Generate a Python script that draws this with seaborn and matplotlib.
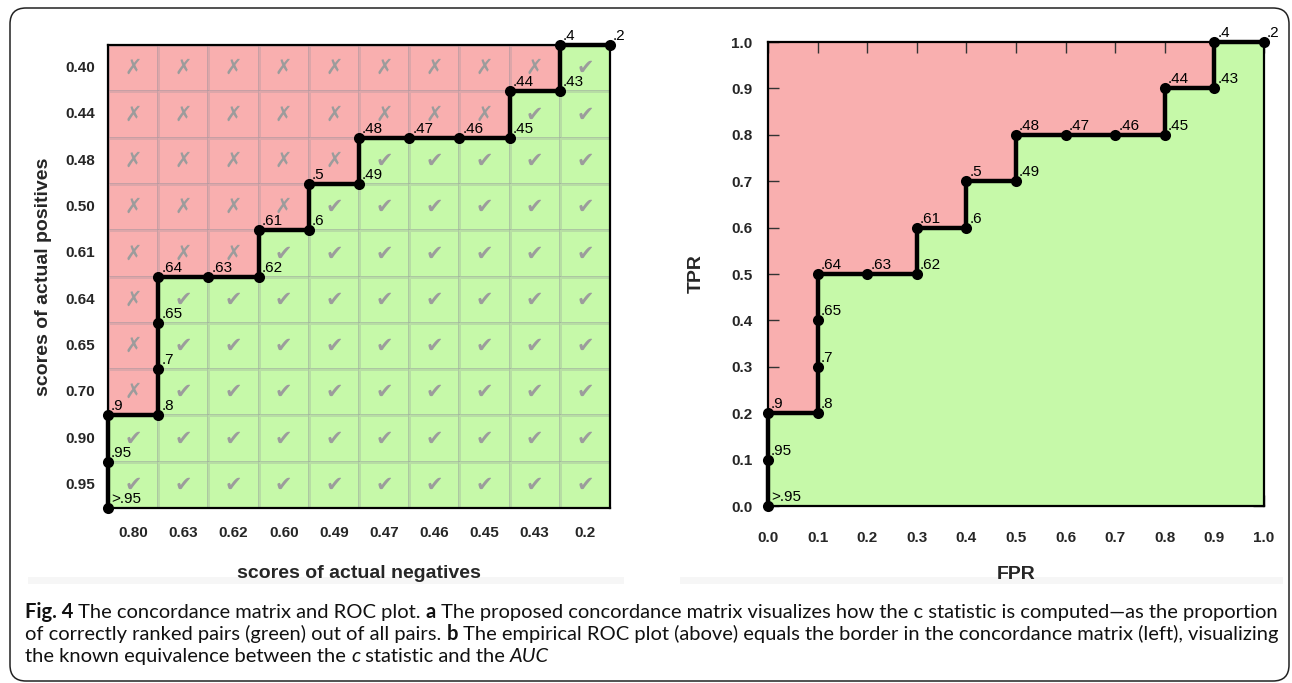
import numpy as np
import pandas as pd
import matplotlib
matplotlib.use("Agg")
import matplotlib.pyplot as plt
from matplotlib import font_manager
from matplotlib.colors import ListedColormap
from matplotlib.patches import FancyBboxPatch, Rectangle
import seaborn as sns

# ---------------- data ----------------
pos_labels = ["0.40", "0.44", "0.48", "0.50", "0.61", "0.64", "0.65", "0.70", "0.90", "0.95"]
pos_scores = [0.40, 0.44, 0.48, 0.50, 0.61, 0.64, 0.65, 0.70, 0.90, 0.95]
neg_labels = ["0.80", "0.63", "0.62", "0.60", "0.49", "0.47", "0.46", "0.45", "0.43", "0.2"]
neg_scores = [0.80, 0.63, 0.62, 0.60, 0.49, 0.47, 0.46, 0.45, 0.43, 0.20]

thresholds = [">.95", ".95", ".9", ".8", ".7", ".65", ".64", ".63", ".62", ".61", ".6",
              ".5", ".49", ".48", ".47", ".46", ".45", ".44", ".43", ".4", ".2"]
fpr = [0.0, 0.0, 0.0, 0.1, 0.1, 0.1, 0.1, 0.2, 0.3, 0.3, 0.4,
       0.4, 0.5, 0.5, 0.6, 0.7, 0.8, 0.8, 0.9, 0.9, 1.0]
tpr = [0.0, 0.1, 0.2, 0.2, 0.3, 0.4, 0.5, 0.5, 0.5, 0.6, 0.6,
       0.7, 0.7, 0.8, 0.8, 0.8, 0.8, 0.9, 0.9, 1.0, 1.0]

tick_vals = [0.0, 0.1, 0.2, 0.3, 0.4, 0.5, 0.6, 0.7, 0.8, 0.9, 1.0]

caption_lines = [
    [("Fig. 4", "bold", "normal"), (" The concordance matrix and ROC plot. ", "normal", "normal"),
     ("a", "bold", "normal"),
     (" The proposed concordance matrix visualizes how the c statistic is computed\u2014as the proportion", "normal", "normal")],
    [("of correctly ranked pairs (green) out of all pairs. ", "normal", "normal"), ("b", "bold", "normal"),
     (" The empirical ROC plot (above) equals the border in the concordance matrix (left), visualizing", "normal", "normal")],
    [("the known equivalence between the ", "normal", "normal"), ("c", "normal", "italic"),
     (" statistic and the ", "normal", "normal"), ("AUC", "normal", "italic")],
]

# ---------------- style ----------------
sns.set_theme(style="white")
plt.rcParams["font.family"] = ["Liberation Sans", "DejaVu Sans"]
installed = {f.name for f in font_manager.fontManager.ttflist}
narrow = "Liberation Sans Narrow" if "Liberation Sans Narrow" in installed else "Liberation Sans"
cap_font = "Lato" if "Lato" in installed else "Liberation Sans"

RED = "#F9AFAF"
GREEN = "#C6F9A9"
SYM = "#9c9c9c"
GRID = (0.55, 0.55, 0.6, 0.25)

W, H = 1292, 683
fig = plt.figure(figsize=(W / 100, H / 100), dpi=100)
fig.patch.set_facecolor("white")


def ax_rect(x0, y0, x1, y1):
    return [x0 / W, 1 - y1 / H, (x1 - x0) / W, (y1 - y0) / H]


# faint bands under panels (behind everything)
for x0, x1 in [(28, 624), (680, 1283)]:
    fig.patches.append(Rectangle((x0 / W, 1 - 584 / H), (x1 - x0) / W, 7 / H,
                                 transform=fig.transFigure, facecolor="#f6f6f6",
                                 edgecolor="none", zorder=-5))

# ---------------- left: concordance matrix ----------------
axL = fig.add_axes(ax_rect(108, 45, 610, 508))
conc = np.array([[1 if p > n else 0 for n in neg_scores] for p in pos_scores])
symbols = np.where(conc == 1, "\u2714", "\u2717")
df = pd.DataFrame(conc, index=pos_labels, columns=neg_labels)
sns.heatmap(df, ax=axL, cmap=ListedColormap([RED, GREEN]), vmin=0, vmax=1, cbar=False,
            linewidths=0.8, linecolor=GRID, annot=symbols, fmt="",
            annot_kws={"color": SYM, "fontsize": 15, "family": ["DejaVu Sans"]})

n_neg, n_pos = len(neg_scores), len(pos_scores)
mx = [f * n_neg for f in fpr]
my = [n_pos - t * n_pos for t in tpr]
sns.lineplot(x=mx, y=my, ax=axL, sort=False, estimator=None, color="black", linewidth=3.2,
             marker="o", markersize=8, markeredgewidth=0, clip_on=False, zorder=5)
for lab, x, y in zip(thresholds, mx, my):
    axL.annotate(lab, (x, y), xytext=(3, 2), textcoords="offset pixels", ha="left", va="bottom",
                 fontsize=11, family=narrow, color="black", zorder=6, annotation_clip=False)
axL.set_xlim(0, n_neg)
axL.set_ylim(n_pos, 0)
for s in axL.spines.values():
    s.set_visible(True)
    s.set_linewidth(1.6)
    s.set_color("black")
axL.tick_params(axis="both", length=0, labelsize=11)
axL.tick_params(axis="x", pad=13)
axL.tick_params(axis="y", pad=9)
for lbl in axL.get_xticklabels() + axL.get_yticklabels():
    lbl.set_fontweight("bold")
    lbl.set_rotation(0)
axL.set_xlabel("scores of actual negatives", fontsize=14, fontweight="bold", labelpad=18)
axL.set_ylabel("scores of actual positives", fontsize=14, fontweight="bold", labelpad=10)

# ---------------- right: ROC ----------------
axR = fig.add_axes(ax_rect(768, 42, 1264, 506))
axR.set_facecolor(RED)
axR.fill_between(fpr, tpr, 0, color=GREEN, linewidth=0, zorder=1)
sns.lineplot(x=fpr, y=tpr, ax=axR, sort=False, estimator=None, color="black", linewidth=3.2,
             marker="o", markersize=8, markeredgewidth=0, clip_on=False, zorder=5)
for lab, x, y in zip(thresholds, fpr, tpr):
    axR.annotate(lab, (x, y), xytext=(3, 2), textcoords="offset pixels", ha="left", va="bottom",
                 fontsize=11, family=narrow, color="black", zorder=6, annotation_clip=False)
axR.set_xlim(0, 1)
axR.set_ylim(0, 1)
axR.set_xticks(tick_vals)
axR.set_yticks(tick_vals)
axR.set_xticklabels([f"{v:.1f}" for v in tick_vals])
axR.set_yticklabels([f"{v:.1f}" for v in tick_vals])
axR.tick_params(axis="both", which="both", direction="in", length=8, width=1, color="#333333",
                top=True, right=True, bottom=True, left=True, labelsize=11)
axR.tick_params(axis="x", pad=18)
axR.tick_params(axis="y", pad=11)
for lbl in axR.get_xticklabels() + axR.get_yticklabels():
    lbl.set_fontweight("bold")
for s in axR.spines.values():
    s.set_visible(True)
    s.set_linewidth(1.6)
    s.set_color("black")
axR.set_xlabel("FPR", fontsize=14, fontweight="bold", labelpad=15)
axR.set_ylabel("TPR", fontsize=14, fontweight="bold", labelpad=19)

# outer rounded frame (inches)
fig.patches.append(FancyBboxPatch((10 / 100, (H - 681) / 100), (1289 - 10) / 100, (681 - 8) / 100,
                                  boxstyle="round,pad=0,rounding_size=0.16",
                                  transform=fig.dpi_scale_trans, facecolor="none",
                                  edgecolor="#222222", linewidth=1.1, zorder=10))

# caption
renderer = fig.canvas.get_renderer()


def measure(runs, size):
    total = 0
    for txt, wgt, sty in runs:
        t = fig.text(0, 0, txt, fontsize=size, fontweight=wgt, fontstyle=sty, family=cap_font)
        total += t.get_window_extent(renderer).width
        t.remove()
    return total


base = 12
width1 = measure(caption_lines[0], base)
cap_size = base * 1250 / width1

for runs, ybase in zip(caption_lines, [618, 640, 662]):
    x = 25
    for txt, wgt, sty in runs:
        t = fig.text(x / W, 1 - ybase / H, txt, fontsize=cap_size, fontweight=wgt, fontstyle=sty,
                     family=cap_font, ha="left", va="baseline", color="#111111")
        x += t.get_window_extent(renderer).width

fig.savefig("out.png", dpi=100, facecolor="white")
